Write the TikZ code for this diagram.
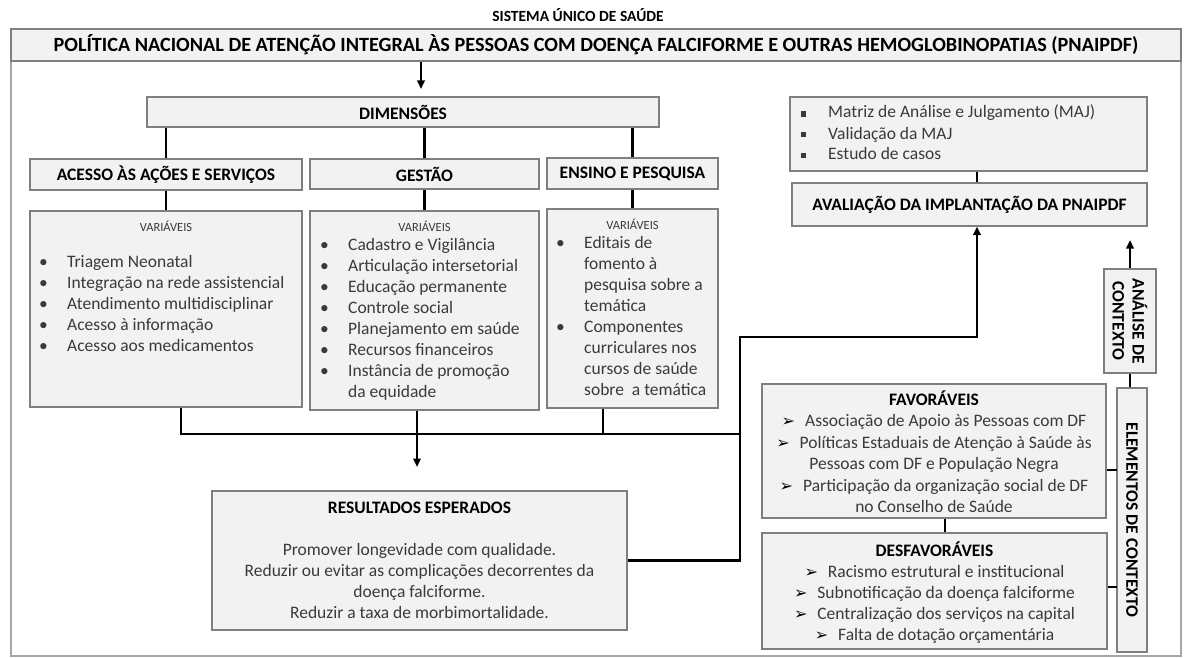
\documentclass[tikz,border=0pt]{standalone}
\usepackage{fontspec}
\setmainfont{Carlito}
\newfontfamily\symfont{DejaVu Sans}
\usetikzlibrary{arrows.meta,fit,calc}
\definecolor{boxfill}{HTML}{F2F2F2}
\definecolor{boxline}{HTML}{7F7F7F}
\definecolor{framecol}{HTML}{A6A6A6}
\definecolor{bodytxt}{HTML}{3A3A3A}
\newcommand{\fsz}[2]{\fontsize{#1}{#2}\selectfont}
\newcommand{\arrowitem}{{\symfont\fsz{16}{16}\color{black}➢}\hspace{10pt}}
\newcommand{\sqbul}{\rule[1.5pt]{5pt}{5pt}}
\newcommand{\bul}{\makebox[28pt][l]{\textbullet}}
\tikzset{
  box/.style={draw=boxline, line width=1.2pt, fill=boxfill, inner sep=0pt},
  framebox/.style={draw=framecol, line width=1.5pt, inner sep=0pt},
  conn/.style={draw=black, line width=2.2pt},
  thinconn/.style={draw=black, line width=1.6pt},
  arr/.style={conn, -{Triangle[length=8.5pt,width=7.5pt]}},
  hd/.style={font=\bfseries\fsz{17.5}{20}, text=black, inner sep=0pt},
  bd/.style={font=\fsz{17.5}{21}, text=bodytxt, inner sep=0pt},
  bdw/.style={font=\fsz{17.5}{21.5}, text=bodytxt, inner sep=0pt},
  var/.style={font=\fsz{12.5}{14}, text=bodytxt, inner sep=0pt},
}
\begin{document}
\begin{tikzpicture}[x=1pt,y=-1pt]
\useasboundingbox (0,0) rectangle (1189,658);
% frame and title
\node[framebox, fit={(11,29)(1181,656)}] (frame) {};
\node[font=\bfseries\fsz{15.5}{18}] (sus) at (578,15) {SISTEMA ÚNICO DE SAÚDE};
\node[box, fit={(11,29)(1181,61)}] (pol) {};
\node[font=\bfseries\fsz{20.2}{24}, inner sep=0pt] (polt) at (pol.center) {POLÍTICA NACIONAL DE ATENÇÃO INTEGRAL ÀS PESSOAS COM DOENÇA FALCIFORME E OUTRAS HEMOGLOBINOPATIAS (PNAIPDF)};
% dimensions
\node[box, fit={(147,97)(659,127)}] (dim) {};
\node[hd] (dimt) at (dim.center) {DIMENSÕES};
\node[box, fit={(30,159)(302,190)}] (acc) {};
\node[hd] (acct) at (acc.center) {ACESSO ÀS AÇÕES E SERVIÇOS};
\node[box, fit={(310,159)(539,189)}] (ges) {};
\node[hd] (gest) at (ges.center) {GESTÃO};
\node[box, fit={(547,158)(718,189)}] (ens) {};
\node[hd] (enst) at (ens.center) {ENSINO E PESQUISA};
% variable boxes
\node[box, fit={(30,211)(302,407)}] (accv) {};
\node[box, fit={(310,211)(539,410)}] (gesv) {};
\node[box, fit={(547,209)(718,408)}] (ensv) {};
\node[var] (accvl) at (166,226) {VARIÁVEIS};
\node[var] (gesvl) at (424.5,226) {VARIÁVEIS};
\node[var] (ensvl) at (632.5,224) {VARIÁVEIS};
\node[bd, anchor=base west] (accl) at (39,267) {\begin{tabular}[t]{@{}l@{}l@{}}
\bul & Triagem Neonatal\\
\bul & Integração na rede assistencial\\
\bul & Atendimento multidisciplinar\\
\bul & Acesso à informação\\
\bul & Acesso aos medicamentos
\end{tabular}};
\node[bd, anchor=base west] (gesl) at (320,250) {\begin{tabular}[t]{@{}l@{}l@{}}
\bul & Cadastro e Vigilância\\
\bul & Articulação intersetorial\\
\bul & Educação permanente\\
\bul & Controle social\\
\bul & Planejamento em saúde\\
\bul & Recursos financeiros\\
\bul & Instância de promoção\\
 & da equidade
\end{tabular}};
\node[bd, anchor=base west] (ensl) at (556,248) {\begin{tabular}[t]{@{}l@{}l@{}}
\bul & Editais de\\
 & fomento à\\
 & pesquisa sobre a\\
 & temática\\
\bul & Componentes\\
 & curriculares nos\\
 & cursos de saúde\\
 & sobre\ \ a temática
\end{tabular}};
% results
\node[box, fit={(212,491)(627,630)}] (res) {};
\node[bd, anchor=base] (rest) at (419.5,513) {\begin{tabular}[t]{@{}c@{}}
\textbf{\color{black}RESULTADOS ESPERADOS}\\[21pt]
Promover longevidade com qualidade.\\
Reduzir ou evitar as complicações decorrentes da\\
doença falciforme.\\
Reduzir a taxa de morbimortalidade.
\end{tabular}};
% evaluation
\node[box, fit={(790,97)(1147,171)}] (maj) {};
\node[bd, anchor=base west] (majl) at (801,118) {\begin{tabular}[t]{@{}l@{}l@{}}
\makebox[27pt][l]{\sqbul} & Matriz de Análise e Julgamento (MAJ)\\
\makebox[27pt][l]{\sqbul} & Validação da MAJ\\
\makebox[27pt][l]{\sqbul} & Estudo de casos
\end{tabular}};
\node[box, fit={(792,183)(1147,226)}] (aval) {};
\node[hd] (avalt) at (aval.center) {AVALIAÇÃO DA IMPLANTAÇÃO DA PNAIPDF};
% context
\node[box, fit={(1104,269)(1156,373)}] (ana) {};
\node[hd, rotate=-90, align=center] (anat) at (ana.center) {ANÁLISE DE\\CONTEXTO};
\node[box, fit={(1117,388)(1147,652)}] (ele) {};
\node[hd, rotate=-90] (elet) at (ele.center) {ELEMENTOS DE CONTEXTO};
\node[box, fit={(762,384)(1106,518)}] (fav) {};
\node[bdw, anchor=base] (favt) at (934,405) {\begin{tabular}[t]{@{}c@{}}
\textbf{\color{black}FAVORÁVEIS}\\
\arrowitem Associação de Apoio às Pessoas com DF\\
\arrowitem Políticas Estaduais de Atenção à Saúde às\\
Pessoas com DF e População Negra\\
\arrowitem Participação da organização social de DF\\
no Conselho de Saúde
\end{tabular}};
\node[box, fit={(762,533)(1107,649)}] (des) {};
\node[bd, anchor=base] (dest) at (934.5,556) {\begin{tabular}[t]{@{}c@{}}
\textbf{\color{black}DESFAVORÁVEIS}\\
\arrowitem Racismo estrutural e institucional\\
\arrowitem Subnotificação da doença falciforme\\
\arrowitem Centralização dos serviços na capital\\
\arrowitem Falta de dotação orçamentária
\end{tabular}};
% coordinates
\coordinate (dimin) at (421,89);
\coordinate (b1) at (181,434);
\coordinate (b2) at (417,434);
\coordinate (b3) at (603,434);
\coordinate (b4) at (740,434);
\coordinate (resin) at (417,467);
\coordinate (c2) at (740,337);
\coordinate (c3) at (977,337);
\coordinate (anaout) at (1130,240);
\coordinate (t1) at (1117,470);
\coordinate (t2) at (1117,587);
\coordinate (t3) at (945,520);
% connectors
\draw[arr] (pol.south -| dimin) -- (dimin);
\draw[conn] (dim.south -| acc.north) -- (acc.north);
\draw[conn] (dim.south -| ges.north) -- (ges.north);
\draw[conn] (dim.south -| ens.north) -- (ens.north);
\draw[conn] (acc.south) -- (acc.south |- accv.north);
\draw[conn] (ges.south) -- (ges.south |- gesv.north);
\draw[conn] (ens.south) -- (ens.south |- ensv.north);
\draw[conn] (accv.south -| b1) -- (b1) -- (b4);
\draw[conn] (gesv.south -| b2) -- (b2);
\draw[conn] (ensv.south -| b3) -- (b3);
\draw[arr] (b2) -- (resin);
\draw[arr] (res.east) -- (res.east -| b4) -- (c2) -- (c3) -- (aval.south -| c3);
\draw[thinconn] (maj.south -| c3) -- (aval.north -| c3);
\draw[arr] (ana.north) -- (ana.north |- anaout);
\draw[thinconn] (ana.south) -- (ana.south |- ele.north);
\draw[thinconn] (fav.east |- t1) -- (t1);
\draw[thinconn] (des.east |- t2) -- (t2);
\draw[thinconn] (fav.south -| t3) -- (des.north -| t3);
\end{tikzpicture}
\end{document}
